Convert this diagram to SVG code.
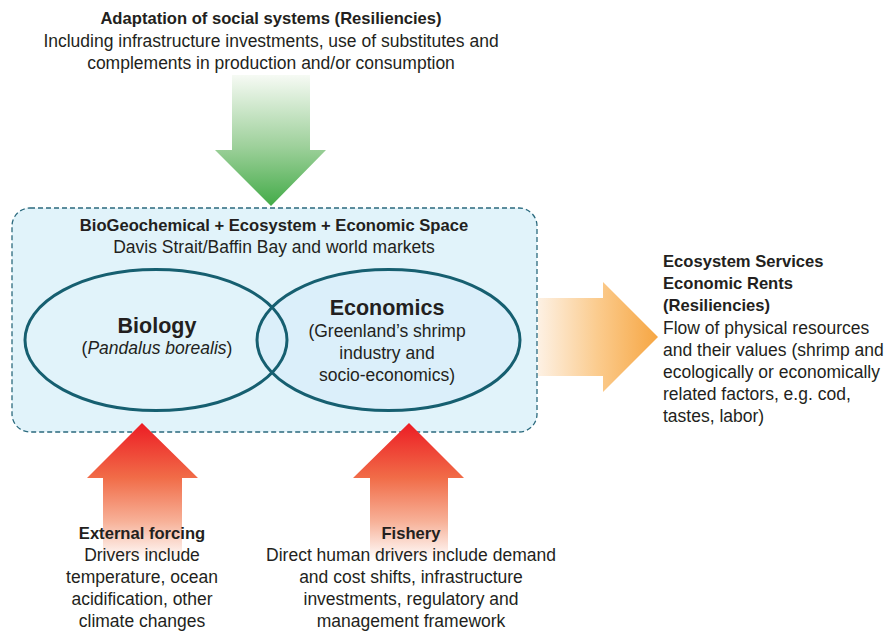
<svg xmlns="http://www.w3.org/2000/svg" width="885" height="635" viewBox="0 0 885 635">
  <defs>
    <linearGradient id="gGreen" x1="0" y1="75" x2="0" y2="206" gradientUnits="userSpaceOnUse">
      <stop offset="0" stop-color="#f6faf4"/>
      <stop offset="0.55" stop-color="#9dd09a"/>
      <stop offset="1" stop-color="#43ab48"/>
    </linearGradient>
    <linearGradient id="gOrange" x1="538" y1="0" x2="658" y2="0" gradientUnits="userSpaceOnUse">
      <stop offset="0" stop-color="#fdf1e4"/>
      <stop offset="0.5" stop-color="#fbcb8d"/>
      <stop offset="1" stop-color="#f6a643"/>
    </linearGradient>
    <linearGradient id="gRed" x1="0" y1="423" x2="0" y2="560" gradientUnits="userSpaceOnUse">
      <stop offset="0" stop-color="#ec1c24"/>
      <stop offset="0.4" stop-color="#f16c48"/>
      <stop offset="0.72" stop-color="#f7b198"/>
      <stop offset="1" stop-color="#ffffff"/>
    </linearGradient>
    <style>
      text { font-family: "Liberation Sans", Arial, sans-serif; fill: #231f20; }
      .t { font-size: 17.5px; }
      .b { font-size: 16.6px; font-weight: bold; }
      .big { font-size: 21.5px; font-weight: bold; }
      .c { text-anchor: middle; }
      .space { fill: #e1f3fa; stroke: #2b6a7e; stroke-width: 1.3; stroke-dasharray: 5 3; }
      .oval { stroke: #165f70; stroke-width: 3; }
    </style>
  </defs>

  <!-- shared system space -->
  <g id="space">
    <rect class="space" x="12" y="208" width="525" height="224" rx="18" ry="18"/>
    <text class="b c" x="274" y="231">BioGeochemical + Ecosystem + Economic Space</text>
    <text class="t c" x="274" y="253">Davis Strait/Baffin Bay and world markets</text>
  </g>

  <g id="economics">
    <ellipse class="oval" cx="388.5" cy="340" rx="131.5" ry="70.5" fill="#dbeffa"/>
    <text class="big c" x="387" y="315">Economics</text>
    <text class="t c" x="387" y="337">(Greenland’s shrimp</text>
    <text class="t c" x="387" y="359">industry and</text>
    <text class="t c" x="387" y="381">socio-economics)</text>
  </g>

  <g id="biology">
    <ellipse class="oval" cx="156" cy="340" rx="131" ry="70.5" fill="none"/>
    <text class="big c" x="157" y="333">Biology</text>
    <text class="t c" x="157" y="354">(<tspan font-style="italic">Pandalus borealis</tspan>)</text>
  </g>

  <!-- flows into and out of the space -->
  <g id="connectors">
    <polygon points="232,75 310,75 310,150 326,150 271,206 215,150 232,150" fill="url(#gGreen)"/>
    <polygon points="538,298 603,298 603,282 658,337 603,392 603,376 538,376" fill="url(#gOrange)"/>
    <polygon points="142,423 198,478 182,478 182,562 103,562 103,478 87,478" fill="url(#gRed)"/>
    <polygon points="409,423 464,478 448,478 448,562 370,562 370,478 353,478" fill="url(#gRed)"/>
  </g>

  <g id="adaptation">
    <text class="b c" x="271" y="24">Adaptation of social systems (Resiliencies)</text>
    <text class="t c" x="271" y="47">Including infrastructure investments, use of substitutes and</text>
    <text class="t c" x="271" y="69">complements in production and/or consumption</text>
  </g>

  <g id="services">
    <text class="b" x="663" y="267">Ecosystem Services</text>
    <text class="b" x="663" y="289">Economic Rents</text>
    <text class="b" x="663" y="311">(Resiliencies)</text>
    <text class="t" x="663" y="334">Flow of physical resources</text>
    <text class="t" x="663" y="356">and their values (shrimp and</text>
    <text class="t" x="663" y="378">ecologically or economically</text>
    <text class="t" x="663" y="400">related factors, e.g. cod,</text>
    <text class="t" x="663" y="422">tastes, labor)</text>
  </g>

  <g id="external-forcing">
    <text class="b c" x="142" y="539">External forcing</text>
    <text class="t c" x="142" y="561">Drivers include</text>
    <text class="t c" x="142" y="583">temperature, ocean</text>
    <text class="t c" x="142" y="605">acidification, other</text>
    <text class="t c" x="142" y="627">climate changes</text>
  </g>

  <g id="fishery">
    <text class="b c" x="411" y="539">Fishery</text>
    <text class="t c" x="411" y="561">Direct human drivers include demand</text>
    <text class="t c" x="411" y="583">and cost shifts, infrastructure</text>
    <text class="t c" x="411" y="605">investments, regulatory and</text>
    <text class="t c" x="411" y="627">management framework</text>
  </g>
</svg>
